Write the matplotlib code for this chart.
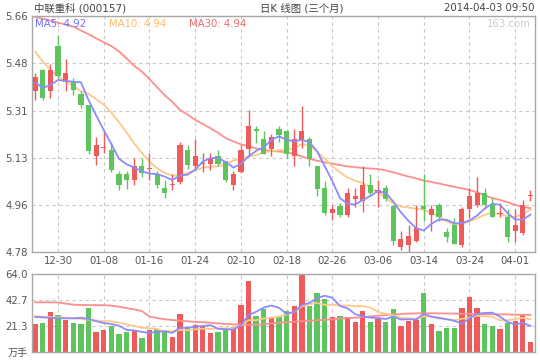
import matplotlib.pyplot as plt

plt.rcParams['font.family'] = ['DejaVu Sans', 'Noto Sans CJK SC']

# trading days shown (2013-12-25 .. 2014-04-03)
dates = ["12-25", "12-26", "12-27", "12-30", "12-31", "01-02", "01-03", "01-06", "01-07", "01-08",
         "01-09", "01-10", "01-13", "01-14", "01-15", "01-16", "01-17", "01-20", "01-21", "01-22",
         "01-23", "01-24", "01-27", "01-28", "01-29", "01-30", "02-07", "02-10", "02-11", "02-12",
         "02-13", "02-14", "02-17", "02-18", "02-19", "02-20", "02-21", "02-24", "02-25", "02-26",
         "02-27", "02-28", "03-03", "03-04", "03-05", "03-06", "03-07", "03-10", "03-11", "03-12",
         "03-13", "03-14", "03-17", "03-18", "03-19", "03-20", "03-21", "03-24", "03-25", "03-26",
         "03-27", "03-28", "03-31", "04-01", "04-02", "04-03"]
tick_labels = ["12-30", "01-08", "01-16", "01-24", "02-10", "02-18", "02-26",
               "03-06", "03-14", "03-24", "04-01"]

opens = [5.379, 5.459, 5.379, 5.548, 5.416, 5.418, 5.370, 5.329, 5.137, 5.168,
         5.162, 5.073, 5.073, 5.048, 5.102, 5.090, 5.073, 5.021, 5.030, 5.040,
         5.162, 5.100, 5.109, 5.109, 5.140, 5.121, 5.029, 5.078, 5.166, 5.240,
         5.203, 5.166, 5.240, 5.233, 5.138, 5.199, 5.203, 5.102, 5.021, 4.928,
         4.954, 4.920, 4.980, 4.970, 5.032, 5.000, 5.021, 4.954, 4.799, 4.809,
         4.821, 4.954, 4.920, 4.955, 4.856, 4.883, 4.809, 4.941, 4.958, 5.002,
         4.960, 4.923, 4.913, 4.858, 4.853, 4.991]
highs = [5.447, 5.462, 5.480, 5.589, 5.500, 5.428, 5.379, 5.330, 5.211, 5.233,
         5.190, 5.081, 5.081, 5.131, 5.131, 5.151, 5.081, 5.049, 5.071, 5.190,
         5.180, 5.203, 5.151, 5.151, 5.162, 5.121, 5.081, 5.180, 5.311, 5.251,
         5.233, 5.221, 5.251, 5.233, 5.240, 5.323, 5.210, 5.102, 5.044, 4.958,
         4.962, 5.019, 5.019, 5.102, 5.073, 5.049, 5.032, 4.955, 4.861, 4.883,
         4.955, 5.073, 4.955, 4.962, 4.872, 4.909, 4.950, 5.019, 5.061, 5.019,
         4.983, 4.962, 4.943, 4.943, 4.973, 5.013]
lows = [5.348, 5.349, 5.356, 5.428, 5.379, 5.366, 5.319, 5.147, 5.106, 5.149,
        5.078, 5.011, 5.017, 5.029, 5.059, 5.048, 5.019, 4.983, 5.011, 5.035,
        5.091, 5.087, 5.078, 5.087, 5.100, 5.040, 5.011, 5.075, 5.137, 5.187,
        5.145, 5.137, 5.190, 5.131, 5.100, 5.168, 5.100, 4.988, 4.920, 4.899,
        4.910, 4.910, 4.950, 4.929, 4.989, 4.950, 4.970, 4.808, 4.790, 4.780,
        4.820, 4.898, 4.858, 4.898, 4.818, 4.810, 4.799, 4.909, 4.950, 4.940,
        4.910, 4.910, 4.818, 4.818, 4.844, 4.970]
closes = [5.431, 5.356, 5.459, 5.438, 5.447, 5.386, 5.327, 5.159, 5.180, 5.168,
          5.087, 5.029, 5.048, 5.102, 5.076, 5.090, 5.029, 5.000, 5.030, 5.180,
          5.106, 5.140, 5.109, 5.132, 5.109, 5.048, 5.073, 5.162, 5.251, 5.230,
          5.147, 5.210, 5.218, 5.147, 5.203, 5.233, 5.128, 5.017, 4.928, 4.943,
          4.920, 5.002, 4.991, 5.032, 5.000, 5.013, 4.980, 4.821, 4.830, 4.842,
          4.872, 4.941, 4.943, 4.910, 4.837, 4.811, 4.943, 4.991, 5.002, 4.958,
          4.910, 4.923, 4.837, 4.883, 4.955, 4.991]

ma5 = [5.413, 5.392, 5.403, 5.422, 5.418, 5.415, 5.413, 5.347, 5.290, 5.235,
       5.183, 5.128, 5.108, 5.095, 5.082, 5.073, 5.071, 5.062, 5.049, 5.066,
       5.069, 5.088, 5.118, 5.131, 5.131, 5.116, 5.096, 5.109, 5.137, 5.158,
       5.171, 5.199, 5.212, 5.199, 5.193, 5.199, 5.190, 5.156, 5.101, 5.045,
       4.982, 4.960, 4.958, 4.975, 4.990, 5.008, 5.001, 4.969, 4.929, 4.897,
       4.870, 4.861, 4.886, 4.902, 4.901, 4.888, 4.889, 4.898, 4.917, 4.943,
       4.961, 4.957, 4.926, 4.902, 4.902, 4.920]
ma10 = [5.527, 5.490, 5.460, 5.435, 5.415, 5.400, 5.380, 5.370, 5.350, 5.330,
        5.300, 5.265, 5.226, 5.185, 5.150, 5.117, 5.093, 5.075, 5.066, 5.066,
        5.075, 5.085, 5.095, 5.099, 5.100, 5.108, 5.122, 5.128, 5.136, 5.142,
        5.152, 5.157, 5.160, 5.163, 5.167, 5.183, 5.178, 5.155, 5.128, 5.100,
        5.078, 5.058, 5.046, 5.038, 5.020, 5.005, 4.983, 4.963, 4.950, 4.947,
        4.942, 4.938, 4.926, 4.915, 4.895, 4.883, 4.885, 4.895, 4.907, 4.920,
        4.926, 4.923, 4.914, 4.911, 4.923, 4.939]
ma30 = [5.656, 5.650, 5.643, 5.635, 5.628, 5.621, 5.606, 5.592, 5.577, 5.562,
        5.548, 5.528, 5.502, 5.474, 5.453, 5.425, 5.395, 5.365, 5.340, 5.310,
        5.293, 5.273, 5.258, 5.242, 5.225, 5.205, 5.193, 5.182, 5.175, 5.167,
        5.162, 5.157, 5.155, 5.152, 5.147, 5.137, 5.128, 5.121, 5.115, 5.110,
        5.105, 5.100, 5.097, 5.094, 5.092, 5.090, 5.085, 5.078, 5.070, 5.062,
        5.055, 5.047, 5.042, 5.036, 5.030, 5.024, 5.018, 5.012, 5.003, 4.992,
        4.982, 4.975, 4.967, 4.956, 4.950, 4.944]

# volume, 10k lots (万手)
volume = [22.9, 23.7, 32.8, 30.4, 26.2, 23.7, 22.9, 36.1, 16.3, 17.9,
          21.3, 14.6, 16.3, 17.9, 11.3, 17.9, 18.8, 17.9, 12.2, 31.2,
          19.6, 22.1, 21.3, 15.5, 16.3, 17.9, 20.4, 38.6, 58.5, 29.5,
          35.3, 29.0, 29.0, 33.7, 37.8, 63.4, 38.0, 48.6, 43.8, 29.0,
          29.5, 28.7, 24.6, 33.7, 24.6, 27.3, 24.6, 35.3, 21.3, 25.4,
          26.2, 48.6, 22.9, 17.1, 19.6, 19.6, 36.1, 45.2, 36.1, 22.9,
          21.3, 18.8, 23.7, 25.4, 30.4, 8.0]
vol_ma5 = [28.7, 28.4, 28.0, 27.6, 27.6, 27.6, 28.1, 27.0, 25.2, 23.7,
           22.9, 21.5, 18.0, 17.6, 16.3, 15.6, 16.4, 16.8, 15.6, 19.6,
           19.9, 20.6, 21.3, 21.9, 19.0, 18.6, 18.3, 21.7, 30.3, 33.0,
           36.5, 38.2, 36.3, 31.3, 33.0, 38.6, 40.4, 44.3, 46.3, 44.6,
           37.8, 35.9, 31.1, 29.1, 28.2, 27.8, 27.0, 29.1, 26.6, 26.8,
           26.6, 31.4, 28.9, 28.0, 26.9, 25.6, 23.1, 27.5, 31.3, 32.0,
           32.3, 28.9, 24.6, 22.4, 23.9, 21.3]
vol_ma10 = [29.5, 29.0, 28.6, 28.3, 28.1, 27.6, 27.0, 26.5, 25.8, 25.3,
            25.1, 24.2, 22.6, 21.3, 19.8, 19.3, 18.8, 17.0, 16.8, 17.9,
            17.8, 18.5, 19.0, 18.8, 19.3, 19.3, 19.4, 21.5, 26.1, 26.0,
            27.5, 28.2, 29.0, 30.8, 33.0, 37.5, 39.3, 40.3, 38.8, 38.8,
            38.2, 38.2, 37.7, 37.7, 36.4, 32.8, 31.4, 30.1, 27.9, 27.5,
            27.2, 29.2, 29.0, 27.3, 26.8, 26.1, 27.2, 28.2, 29.7, 29.4,
            28.9, 26.0, 26.0, 26.9, 28.0, 26.8]
vol_ma30 = [40.8, 40.8, 40.8, 40.7, 39.8, 38.9, 38.6, 38.6, 38.5, 38.4,
            38.1, 37.2, 36.0, 35.0, 33.6, 29.0, 27.8, 26.8, 26.2, 25.7,
            25.1, 24.7, 24.3, 23.9, 23.4, 23.0, 22.6, 22.3, 22.2, 22.3,
            22.7, 23.4, 24.0, 24.3, 24.8, 25.2, 25.6, 26.0, 26.4, 26.8,
            27.3, 27.8, 28.1, 28.6, 29.2, 29.8, 30.3, 30.8, 31.2, 31.5,
            31.7, 31.8, 31.8, 31.7, 31.6, 31.5, 31.4, 31.3, 31.2, 31.1,
            31.0, 30.9, 30.8, 30.6, 30.5, 30.4]

price_ticks = [4.78, 4.956, 5.132, 5.308, 5.484, 5.66]
vol_ticks = [0, 21.3, 42.7, 64.0]

up_color = "#ef5a5a"
down_color = "#5ec45e"
c_ma5 = "#8c8cff"
c_ma10 = "#ffc98a"
c_ma30 = "#ff8f8f"
grid_kw = dict(color="#c8c8c8", linestyle=(0, (3, 3)), linewidth=0.8)

x = list(range(len(dates)))
tick_pos = [dates.index(d) for d in tick_labels]
colors = [up_color if c >= o else down_color for o, c in zip(opens, closes)]

fig = plt.figure(figsize=(5.4, 3.6), dpi=100)
ax = fig.add_axes([32 / 540, 1 - 252.3 / 360, 503 / 540, 236.3 / 360])
axv = fig.add_axes([32 / 540, 1 - 351.7 / 360, 503 / 540, 77.4 / 360])

# price panel
ax.vlines(x, lows, highs, colors=colors, linewidth=1, zorder=3)
bodies = [max(abs(c - o), 0.004) for o, c in zip(opens, closes)]
ax.bar(x, bodies, bottom=[min(o, c) for o, c in zip(opens, closes)],
       width=0.68, color=colors, linewidth=0, zorder=3)
ax.plot(x, ma30, color=c_ma30, linewidth=1.3, zorder=2)
ax.plot(x, ma10, color=c_ma10, linewidth=1.3, zorder=2)
ax.plot(x, ma5, color=c_ma5, linewidth=1.3, zorder=4)

ax.set_xlim(-0.42, 65.6)
ax.set_ylim(4.78, 5.66)
ax.set_yticks(price_ticks)
ax.set_yticklabels(["%.2f" % t for t in price_ticks])
ax.set_xticks(tick_pos)
ax.set_xticklabels(tick_labels)
ax.grid(True, **grid_kw)
ax.set_axisbelow(True)

# volume panel
axv.bar(x, volume, width=0.7, color=colors, linewidth=0, zorder=2)
axv.plot(x, vol_ma30, color=c_ma30, linewidth=1.3, zorder=3)
axv.plot(x, vol_ma10, color=c_ma10, linewidth=1.3, zorder=3)
axv.plot(x, vol_ma5, color=c_ma5, linewidth=1.3, zorder=3)
axv.set_xlim(-0.42, 65.6)
axv.set_ylim(0, 64)
axv.set_yticks(vol_ticks)
axv.set_yticklabels(["万手"] + ["%.1f" % t for t in vol_ticks[1:]])
axv.set_xticks(tick_pos)
axv.set_xticklabels([])
axv.grid(True, **grid_kw)
axv.set_axisbelow(True)

for a in (ax, axv):
    for s in a.spines.values():
        s.set_color("#a8a8a8")
        s.set_linewidth(1)
    a.tick_params(length=0, labelsize=7.3, colors="#555555")
    a.tick_params(axis="y", pad=3)
ax.tick_params(axis="x", pad=3)

fig.text(34 / 540, 1 - 8 / 360, "中联重科 (000157)", fontsize=7.5, color="#444444", va="center")
fig.text(302 / 540, 1 - 8 / 360, "日K 线图 (三个月)", fontsize=7.5, color="#444444",
         va="center", ha="center")
fig.text(535 / 540, 1 - 8 / 360, "2014-04-03 09:50", fontsize=7.3, color="#444444",
         va="center", ha="right")

fig.text(35 / 540, 1 - 24 / 360, "MA5: %.2f" % ma5[-1], fontsize=7.3, color="#7070ff", va="center")
fig.text(109 / 540, 1 - 24 / 360, "MA10: %.2f" % ma10[-1], fontsize=7.3, color="#ffbb66", va="center")
fig.text(189 / 540, 1 - 24 / 360, "MA30: %.2f" % ma30[-1], fontsize=7.3, color="#f06a6a", va="center")
fig.text(531 / 540, 1 - 24 / 360, "163.com", fontsize=7.3, color="#cccccc", va="center", ha="right")

fig.savefig("out.png", dpi=100)
